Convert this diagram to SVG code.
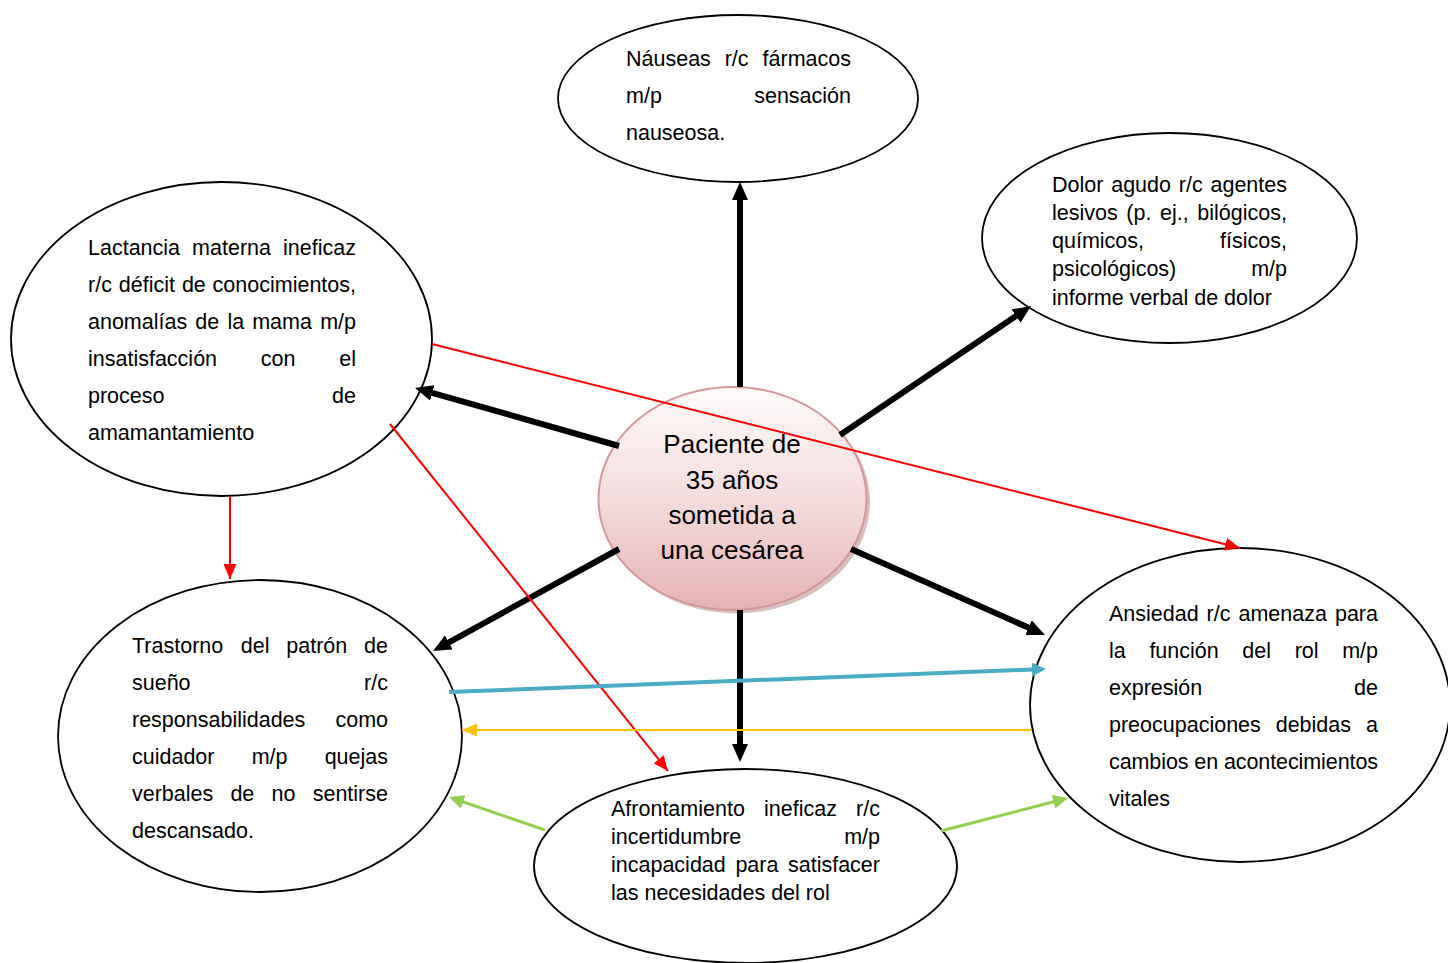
<svg xmlns="http://www.w3.org/2000/svg" width="1448" height="963" viewBox="0 0 1448 963">
<style>
.node{fill:#fff;stroke:#000;stroke-width:1.8}
.t{font-family:"Liberation Sans",Arial,sans-serif;font-size:21.5px;fill:#000}
.c{font-family:"Liberation Sans",Arial,sans-serif;font-size:26px;fill:#000;text-anchor:middle}
.blk{stroke:#000;stroke-width:6;fill:none}
.red{stroke:#ff0000;stroke-width:2;fill:none}
.blu{stroke:#4bacc6;stroke-width:4;fill:none}
.yel{stroke:#ffc000;stroke-width:2;fill:none}
.grn{stroke:#92d050;stroke-width:3;fill:none}
</style>
<defs>
<linearGradient id="cg" x1="0" y1="0" x2="0" y2="1">
<stop offset="0" stop-color="#fefbfb"/>
<stop offset="0.5" stop-color="#f5dcdd"/>
<stop offset="1" stop-color="#e6b2b4"/>
</linearGradient>
<marker id="ab" viewBox="0 0 18 16" refX="4" refY="8" markerWidth="18" markerHeight="16" markerUnits="userSpaceOnUse" orient="auto"><path d="M0,0 L18,8 L0,16 z" fill="#000"/></marker>
<marker id="ar" viewBox="0 0 15 13" refX="15" refY="6.5" markerWidth="15" markerHeight="13" markerUnits="userSpaceOnUse" orient="auto"><path d="M0,0 L15,6.5 L0,13 z" fill="#ff0000"/></marker>
<marker id="ay" viewBox="0 0 15 13" refX="15" refY="6.5" markerWidth="15" markerHeight="13" markerUnits="userSpaceOnUse" orient="auto"><path d="M0,0 L15,6.5 L0,13 z" fill="#ffc000"/></marker>
<marker id="au" viewBox="0 0 14 14" refX="6" refY="7" markerWidth="14" markerHeight="14" markerUnits="userSpaceOnUse" orient="auto"><path d="M0,0 L14,7 L0,14 z" fill="#4bacc6"/></marker>
<marker id="ag" viewBox="0 0 15 14" refX="9" refY="7" markerWidth="15" markerHeight="14" markerUnits="userSpaceOnUse" orient="auto"><path d="M0,0 L15,7 L0,14 z" fill="#92d050"/></marker>
</defs>
<rect width="1448" height="963" fill="#fff"/>

<g id="n-nauseas">
<ellipse class="node" cx="738" cy="98.5" rx="180" ry="83.5"/>
<text class="t" y="66"><tspan x="626">Náuseas</tspan><tspan x="724.7">r/c</tspan><tspan x="851" text-anchor="end">fármacos</tspan></text>
<text class="t" y="103"><tspan x="626">m/p</tspan><tspan x="851" text-anchor="end">sensación</tspan></text>
<text class="t" x="626" y="140">nauseosa.</text>
</g>

<g id="n-dolor">
<ellipse class="node" cx="1169.5" cy="238" rx="187.5" ry="105"/>
<text class="t" y="191.5"><tspan x="1052">Dolor</tspan><tspan x="1111.2">agudo</tspan><tspan x="1178.8">r/c</tspan><tspan x="1287" text-anchor="end">agentes</tspan></text>
<text class="t" y="219.8"><tspan x="1052">lesivos</tspan><tspan x="1126.3">(p.</tspan><tspan x="1160.1">ej.,</tspan><tspan x="1287" text-anchor="end">bilógicos,</tspan></text>
<text class="t" y="248.1"><tspan x="1052">químicos,</tspan><tspan x="1287" text-anchor="end">físicos,</tspan></text>
<text class="t" y="276.4"><tspan x="1052">psicológicos)</tspan><tspan x="1287" text-anchor="end">m/p</tspan></text>
<text class="t" x="1052" y="304.7">informe verbal de dolor</text>
</g>

<g id="n-lactancia">
<ellipse class="node" cx="221.5" cy="339" rx="210.5" ry="157"/>
<text class="t" y="255"><tspan x="88">Lactancia</tspan><tspan x="192.1">materna</tspan><tspan x="356" text-anchor="end">ineficaz</tspan></text>
<text class="t" y="292"><tspan x="88">r/c</tspan><tspan x="118.8">déficit</tspan><tspan x="181.9">de</tspan><tspan x="356" text-anchor="end">conocimientos,</tspan></text>
<text class="t" y="329"><tspan x="88">anomalías</tspan><tspan x="195.3">de</tspan><tspan x="227.4">la</tspan><tspan x="252.2">mama</tspan><tspan x="356" text-anchor="end">m/p</tspan></text>
<text class="t" y="366"><tspan x="88">insatisfacción</tspan><tspan x="260.8">con</tspan><tspan x="356" text-anchor="end">el</tspan></text>
<text class="t" y="403"><tspan x="88">proceso</tspan><tspan x="356" text-anchor="end">de</tspan></text>
<text class="t" x="88" y="440">amamantamiento</text>
</g>

<g id="n-trastorno">
<ellipse class="node" cx="260" cy="736" rx="202" ry="156"/>
<text class="t" y="653"><tspan x="132">Trastorno</tspan><tspan x="240.8">del</tspan><tspan x="286.3">patrón</tspan><tspan x="388" text-anchor="end">de</tspan></text>
<text class="t" y="690"><tspan x="132">sueño</tspan><tspan x="388" text-anchor="end">r/c</tspan></text>
<text class="t" y="727"><tspan x="132">responsabilidades</tspan><tspan x="388" text-anchor="end">como</tspan></text>
<text class="t" y="764"><tspan x="132">cuidador</tspan><tspan x="251.7">m/p</tspan><tspan x="388" text-anchor="end">quejas</tspan></text>
<text class="t" y="801"><tspan x="132">verbales</tspan><tspan x="230.4">de</tspan><tspan x="271.5">no</tspan><tspan x="388" text-anchor="end">sentirse</tspan></text>
<text class="t" x="132" y="838">descansado.</text>
</g>

<g id="n-ansiedad">
<ellipse class="node" cx="1240" cy="705" rx="210" ry="157"/>
<text class="t" y="621"><tspan x="1109">Ansiedad</tspan><tspan x="1206.6">r/c</tspan><tspan x="1238.5">amenaza</tspan><tspan x="1378" text-anchor="end">para</tspan></text>
<text class="t" y="658"><tspan x="1109">la</tspan><tspan x="1149.4">función</tspan><tspan x="1242.3">del</tspan><tspan x="1294.7">rol</tspan><tspan x="1378" text-anchor="end">m/p</tspan></text>
<text class="t" y="695"><tspan x="1109">expresión</tspan><tspan x="1378" text-anchor="end">de</tspan></text>
<text class="t" y="732"><tspan x="1109">preocupaciones</tspan><tspan x="1275.7">debidas</tspan><tspan x="1378" text-anchor="end">a</tspan></text>
<text class="t" x="1109" y="769" textLength="269" lengthAdjust="spacing">cambios en acontecimientos</text>
<text class="t" x="1109" y="806">vitales</text>
</g>

<g id="n-afrontamiento">
<ellipse class="node" cx="745.5" cy="866" rx="211.5" ry="97"/>
<text class="t" y="816"><tspan x="611">Afrontamiento</tspan><tspan x="764">ineficaz</tspan><tspan x="880" text-anchor="end">r/c</tspan></text>
<text class="t" y="844"><tspan x="611">incertidumbre</tspan><tspan x="880" text-anchor="end">m/p</tspan></text>
<text class="t" y="872"><tspan x="611">incapacidad</tspan><tspan x="735.4">para</tspan><tspan x="880" text-anchor="end">satisfacer</tspan></text>
<text class="t" x="611" y="900">las necesidades del rol</text>
</g>

<g id="n-centro">
<ellipse cx="736" cy="502" rx="134" ry="111.5" fill="#c9a2a4" opacity="0.7"/>
<ellipse cx="732.5" cy="498.5" rx="134" ry="111.5" fill="url(#cg)" stroke="#d4979a" stroke-width="2"/>
<text class="c" x="732" y="453">Paciente de</text>
<text class="c" x="732" y="488.5">35 años</text>
<text class="c" x="732" y="524">sometida a</text>
<text class="c" x="732" y="559">una cesárea</text>
</g>

<g id="connectors">
<line class="blk" x1="740" y1="387" x2="740" y2="196" marker-end="url(#ab)"/>
<line class="blk" x1="840" y1="435" x2="1019.4" y2="313.8" marker-end="url(#ab)"/>
<line class="blk" x1="619" y1="446" x2="428.5" y2="391.8" marker-end="url(#ab)"/>
<line class="blk" x1="619" y1="549" x2="445.3" y2="644.3" marker-end="url(#ab)"/>
<line class="blk" x1="740" y1="610" x2="740" y2="748" marker-end="url(#ab)"/>
<line class="blk" x1="851" y1="549" x2="1032.2" y2="629.3" marker-end="url(#ab)"/>
<line class="red" x1="432" y1="344" x2="1240" y2="548" marker-end="url(#ar)"/>
<line class="red" x1="390" y1="424" x2="668" y2="771" marker-end="url(#ar)"/>
<line class="red" x1="230" y1="496" x2="230" y2="579" marker-end="url(#ar)"/>
<line class="blu" x1="449" y1="692" x2="1038" y2="669.3" marker-end="url(#au)"/>
<line class="yel" x1="1032" y1="730" x2="462" y2="730" marker-end="url(#ay)"/>
<line class="grn" x1="545" y1="830" x2="454.7" y2="799" marker-end="url(#ag)"/>
<line class="grn" x1="941" y1="831" x2="1062.2" y2="799.5" marker-end="url(#ag)"/>
</g>
</svg>
